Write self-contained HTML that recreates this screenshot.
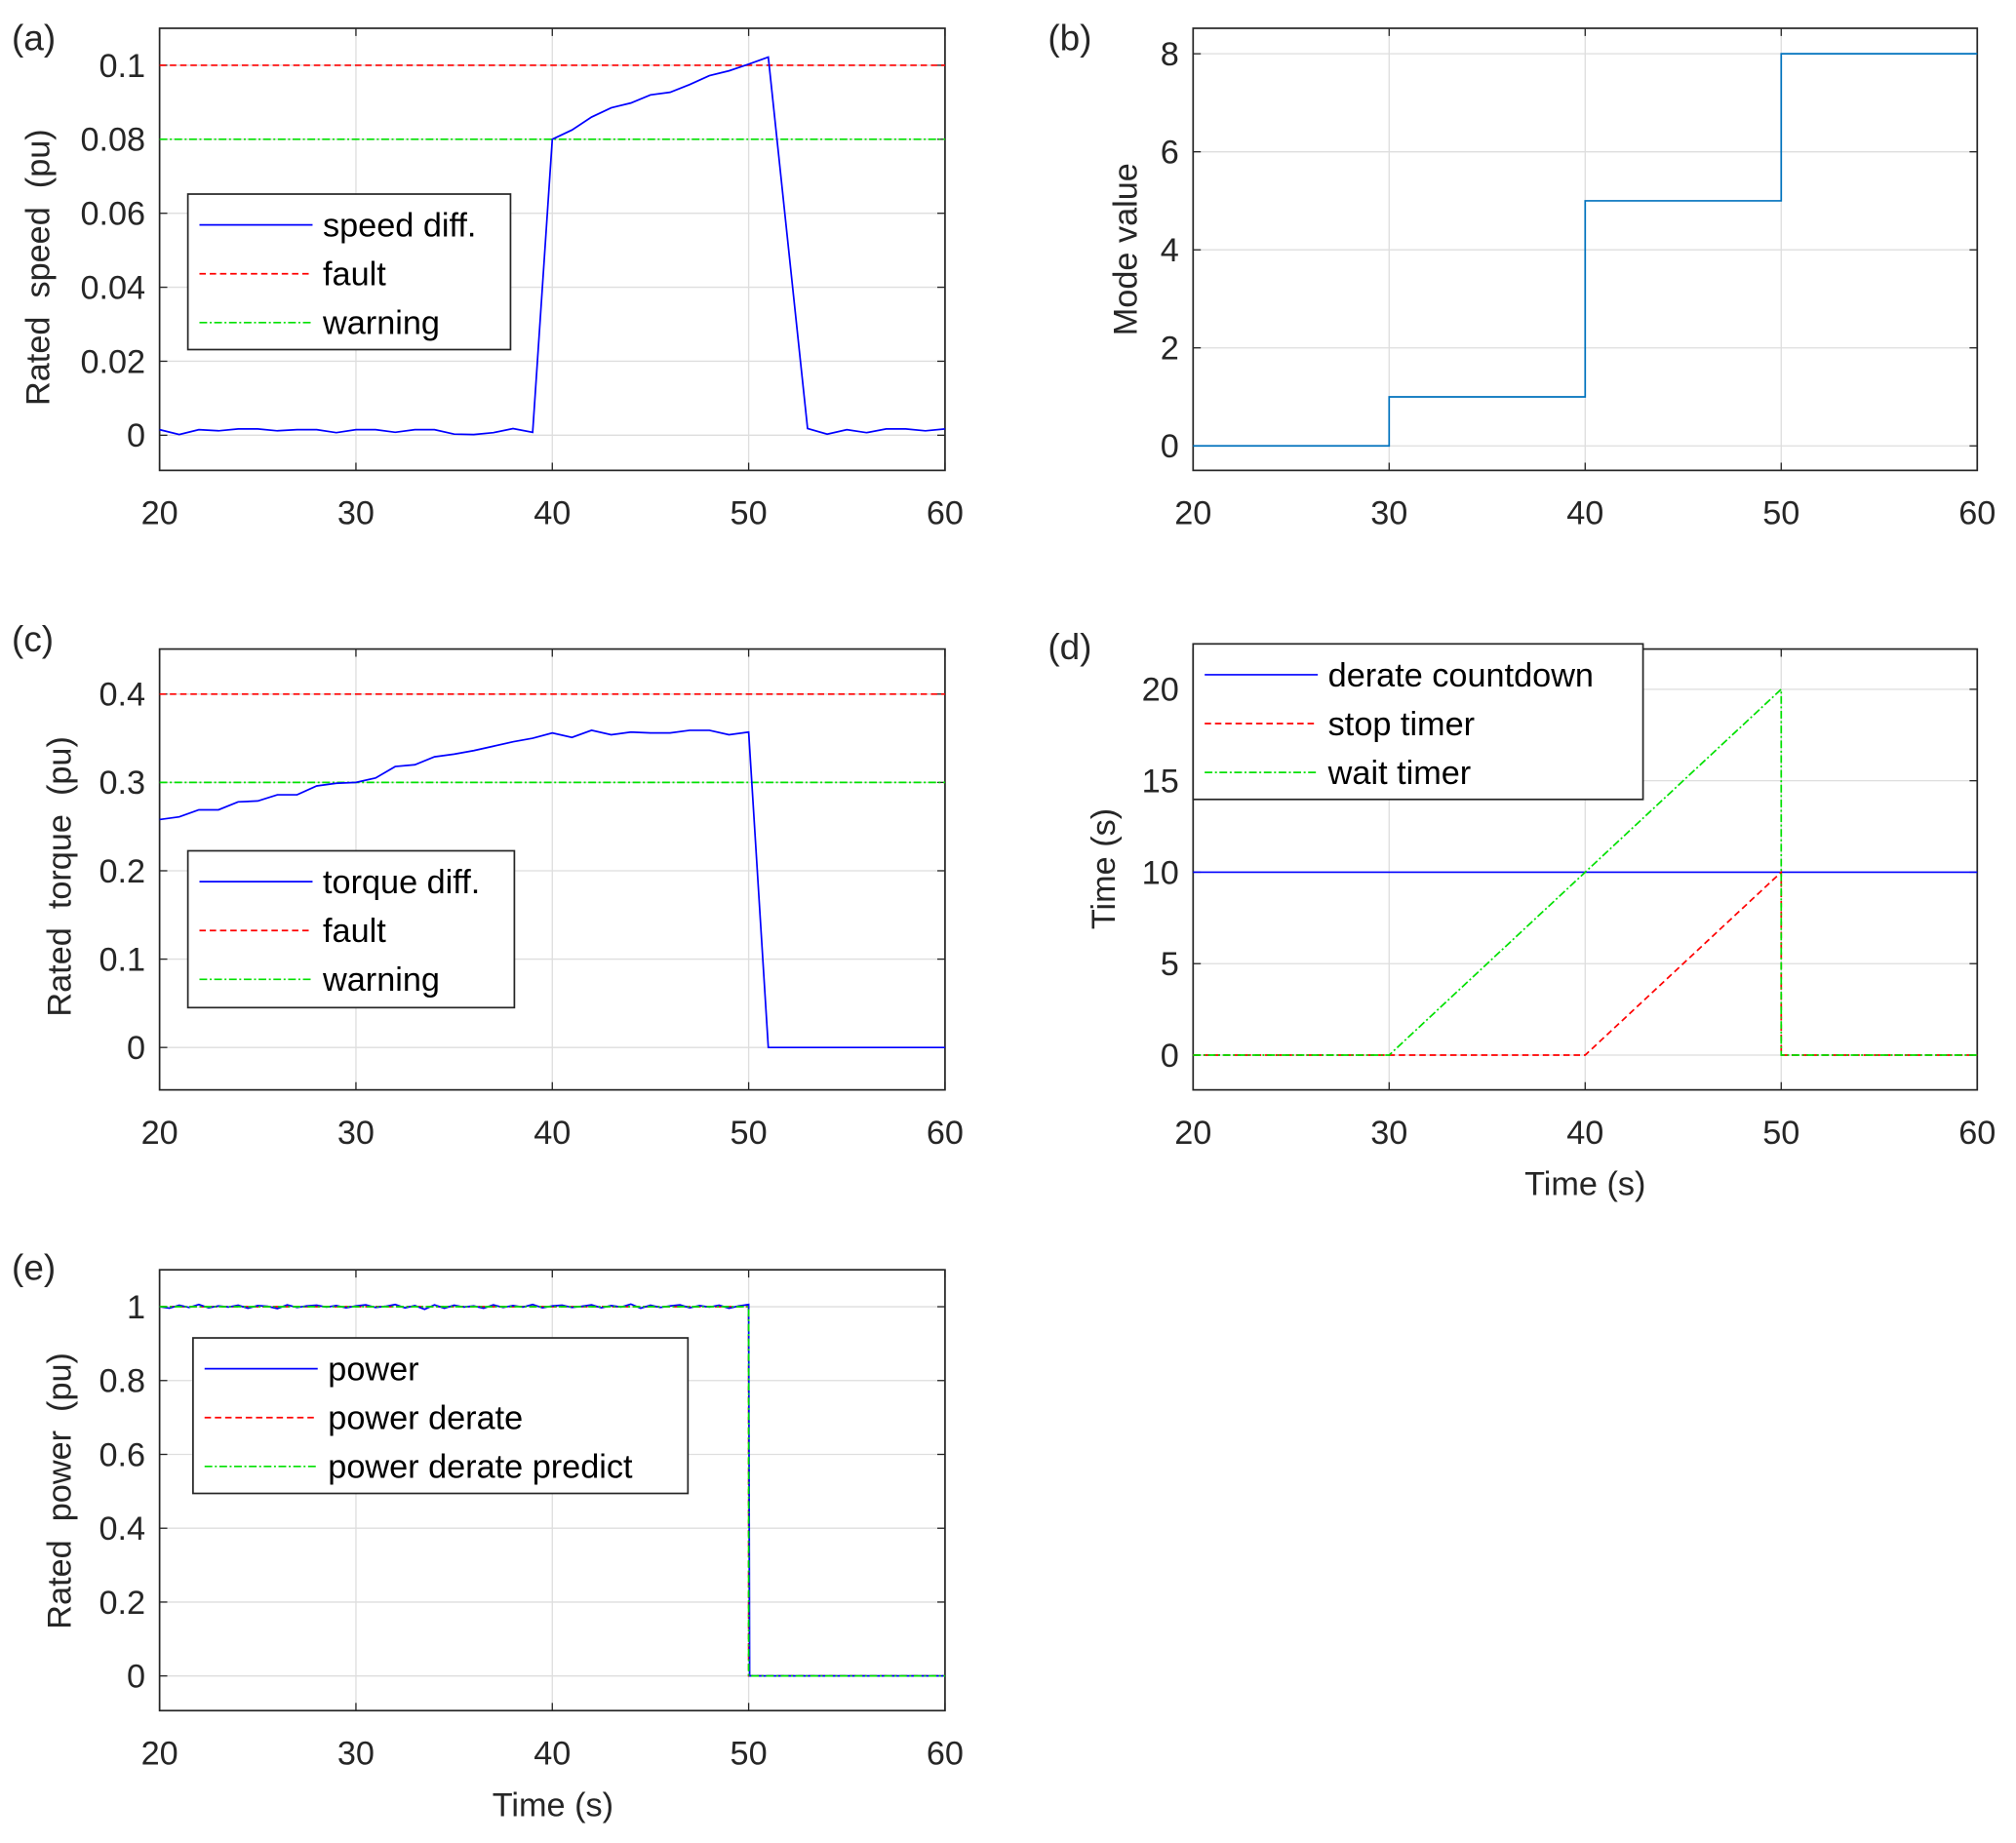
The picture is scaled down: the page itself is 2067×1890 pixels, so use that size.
<!DOCTYPE html>
<html><head><meta charset="utf-8"><style>
html,body{margin:0;padding:0;background:#fff;}
svg{display:block;font-family:"Liberation Sans",Arial,sans-serif;}
text{white-space:pre;}
</style></head><body>
<svg id="fig" width="2067" height="1890" viewBox="0 0 1568 1434" xmlns="http://www.w3.org/2000/svg"></svg>
<script>
// ---------- data ----------
const xTicks = [20,30,40,50,60];
const aTime = [20,21,22,23,24,25,26,27,28,29,30,31,32,33,34,35,36,37,38,39,40,41,42,43,44,45,46,47,48,49,50,51,53,54,55,56,57,58,59,60];
const aSpeed = [0.0015,0.0002,0.0015,0.0012,0.0017,0.0017,0.0012,0.0015,0.0015,0.0007,0.0015,0.0015,0.0008,0.0015,0.0015,0.0003,0.0002,0.0007,0.0018,0.0008,0.080,0.0825,0.086,0.0885,0.0898,0.092,0.0927,0.0948,0.0972,0.0985,0.1003,0.1022,0.0018,0.0003,0.0015,0.0007,0.0017,0.0017,0.0012,0.0017];
const aFault = 0.1, aWarn = 0.08;
const aYTicks = [0,0.02,0.04,0.06,0.08,0.1];
const aYLabels = ["0","0.02","0.04","0.06","0.08","0.1"];

const bTime = [20,30,30,40,40,50,50,60];
const bMode = [0,0,1,1,5,5,8,8];
const bYTicks = [0,2,4,6,8];

const cTime = [20,21,22,23,24,25,26,27,28,29,30,31,32,33,34,35,36,37,38,39,40,41,42,43,44,45,46,47,48,49,50,51,60];
const cTorque = [0.258,0.261,0.269,0.269,0.278,0.279,0.286,0.286,0.296,0.299,0.300,0.305,0.318,0.320,0.329,0.332,0.336,0.341,0.346,0.350,0.356,0.351,0.359,0.354,0.357,0.356,0.356,0.359,0.359,0.354,0.357,0,0];
const cFault = 0.4, cWarn = 0.3;
const cYTicks = [0,0.1,0.2,0.3,0.4];

const dTime = [20,60];
const dDerate = [10,10];
const dStopTime = [20,40,50,50,60];
const dStop = [0,0,10,0,0];
const dWaitTime = [20,30,50,50,60];
const dWait = [0,0,20,0,0];
const dYTicks = [0,5,10,15,20];

const eTime = [20,20.5,21,21.5,22,22.5,23,23.5,24,24.5,25,25.5,26,26.5,27,27.5,28,28.5,29,29.5,30,30.5,31,31.5,32,32.5,33,33.5,34,34.5,35,35.5,36,36.5,37,37.5,38,38.5,39,39.5,40,40.5,41,41.5,42,42.5,43,43.5,44,44.5,45,45.5,46,46.5,47,47.5,48,48.5,49,49.5,50,50.05,60];
const ePower = [1.0,0.996,1.004,0.998,1.006,0.997,1.002,0.999,1.004,0.996,1.003,1.001,0.995,1.005,0.998,1.002,1.004,0.999,1.003,0.997,1.002,1.005,0.998,1.001,1.006,0.997,1.003,0.993,1.005,0.996,1.004,0.999,1.002,0.996,1.005,0.998,1.003,0.999,1.006,0.997,1.002,1.004,0.998,1.001,1.005,0.997,1.003,0.999,1.007,0.996,1.004,0.998,1.002,1.005,0.997,1.003,0.999,1.004,0.996,1.002,1.006,0,0];
const ePredTime = [20,50,50,60];
const ePred = [1,1,0,0];
const eYTicks = [0,0.2,0.4,0.6,0.8,1];

// ---------- helpers ----------
const NS="http://www.w3.org/2000/svg";
const svg=document.getElementById('fig');
function mk(tag,attrs,parent){const e=document.createElementNS(NS,tag);for(const k in attrs)e.setAttribute(k,attrs[k]);(parent||svg).appendChild(e);return e;}
const TF=26;
function axes(name,x0,x1,y0,y1,ymin,ymax,yTicks,yLabels){
  const g=mk('g',{});
  
  
  const sx=v=>x0+(v-20)/40*(x1-x0);
  const sy=v=>y1-(v-ymin)/(ymax-ymin)*(y1-y0);
  xTicks.forEach(t=>{
    const l=mk('line',{x1:sx(t),x2:sx(t),y1:y0,y2:y1,stroke:'#dedede','stroke-width':1},g);
    
    
    mk('line',{x1:sx(t),x2:sx(t),y1:y1,y2:y1-6,stroke:'#262626','stroke-width':1},g);
    mk('line',{x1:sx(t),x2:sx(t),y1:y0,y2:y0+6,stroke:'#262626','stroke-width':1},g);
    const tx=mk('text',{x:sx(t),y:y1+42,'font-size':TF,'text-anchor':'middle',fill:'#262626'},g);
    tx.textContent=t;
    
    
  });
  yTicks.forEach((t,i)=>{
    const l=mk('line',{x1:x0,x2:x1,y1:sy(t),y2:sy(t),stroke:'#dedede','stroke-width':1},g);
    
    
    mk('line',{x1:x0,x2:x0+6,y1:sy(t),y2:sy(t),stroke:'#262626','stroke-width':1},g);
    mk('line',{x1:x1,x2:x1-6,y1:sy(t),y2:sy(t),stroke:'#262626','stroke-width':1},g);
    const tx=mk('text',{x:x0-11,y:sy(t)+9,'font-size':TF,'text-anchor':'end',fill:'#262626'},g);
    tx.textContent=yLabels?yLabels[i]:t;
    
    
  });
  const box=mk('rect',{x:x0,y:y0,width:x1-x0,height:y1-y0,fill:'none',stroke:'#262626','stroke-width':1.3},g);
  
  
  return {g,sx,sy};
}
function line(ax,xs,ys,color,dash,name){
  const pts=xs.map((x,i)=>ax.sx(x).toFixed(2)+','+ax.sy(ys[i]).toFixed(2)).join(' ');
  const p=mk('polyline',{points:pts,fill:'none',stroke:color,'stroke-width':1.3});
  if(dash)p.setAttribute('stroke-dasharray',dash);
  
  
  return p;
}
function text(x,y,s,size,name,anchor,rot){
  const t=mk('text',{x:x,y:y,'font-size':size,fill:'#262626','text-anchor':anchor||'start'});
  if(rot)t.setAttribute('transform','rotate(-90 '+x+' '+y+')');
  t.textContent=s;
  
  
  return t;
}
function legend(name,x,y,w,h,items){
  const g=mk('g',{});
  
  
  mk('rect',{x:x,y:y,width:w,height:h,fill:'#fff',stroke:'#262626','stroke-width':1.3},g);
  items.forEach((it,i)=>{
    const cy=y+24+i*38;
    const l=mk('line',{x1:x+9,x2:x+97,y1:cy,y2:cy,stroke:it[1],'stroke-width':1.3},g);
    if(it[2])l.setAttribute('stroke-dasharray',it[2]);
    const t=mk('text',{x:x+105,y:cy+9,'font-size':TF,fill:'#000'},g);
    t.textContent=it[0];
    
    
  });
}
const DASH='5,3', DOT='6,2,1.5,2';
const BLUE='#0000ff', RED='#ff0000', GREEN='#00e000';

// (a)
const A=axes('panel-a-axes',124,735,22,366,-0.0095,0.11,aYTicks,aYLabels);
line(A,[20,60],[aFault,aFault],RED,DASH,'fault-line');
line(A,[20,60],[aWarn,aWarn],GREEN,DOT,'warning-line');
line(A,aTime,aSpeed,BLUE,null,'speed-diff-line');
legend('legend-a',146,151,251,121,[['speed diff.',BLUE,null],['fault',RED,DASH],['warning',GREEN,DOT]]);
text(9,39,'(a)',28,'panel-label-a');
text(38,208,'Rated  speed  (pu)',26,'y-axis-title-a','middle',true);

// (b)
const B=axes('panel-b-axes',928,1538,22,366,-0.5,8.52,bYTicks);
line(B,bTime,bMode,'#0072bd',null,'mode-line');
text(815,39,'(b)',28,'panel-label-b');
text(884,194,'Mode value',26,'y-axis-title-b','middle',true);

// (c)
const C=axes('panel-c-axes',124,735,505,848,-0.048,0.451,cYTicks);
line(C,[20,60],[cFault,cFault],RED,DASH,'fault-line');
line(C,[20,60],[cWarn,cWarn],GREEN,DOT,'warning-line');
line(C,cTime,cTorque,BLUE,null,'torque-diff-line');
legend('legend-c',146,662,254,122,[['torque diff.',BLUE,null],['fault',RED,DASH],['warning',GREEN,DOT]]);
text(9,507,'(c)',28,'panel-label-c');
text(55,682,'Rated  torque  (pu)',26,'y-axis-title-c','middle',true);

// (d)
const D=axes('panel-d-axes',928,1538,505,848,-1.9,22.2,dYTicks);
line(D,dTime,dDerate,BLUE,null,'derate-countdown-line');
line(D,dStopTime,dStop,RED,DASH,'stop-timer-line');
line(D,dWaitTime,dWait,GREEN,DOT,'wait-timer-line');
legend('legend-d',928,501,350,121,[['derate countdown',BLUE,null],['stop timer',RED,DASH],['wait timer',GREEN,DOT]]);
text(815,513,'(d)',28,'panel-label-d');
text(867,676,'Time (s)',26,'y-axis-title-d','middle',true);
text(1233,930,'Time (s)',26,'x-axis-title-d','middle');

// (e)
const E=axes('panel-e-axes',124,735,988,1331,-0.094,1.1,eYTicks);
line(E,ePredTime,ePred,RED,DASH,'power-derate-line');
line(E,eTime,ePower,BLUE,null,'power-line');
line(E,ePredTime,ePred,GREEN,DOT,'power-derate-predict-line');
legend('legend-e',150,1041,385,121,[['power',BLUE,null],['power derate',RED,DASH],['power derate predict',GREEN,DOT]]);
text(9,996,'(e)',28,'panel-label-e');
text(55,1160,'Rated  power  (pu)',26,'y-axis-title-e','middle',true);
text(430,1413,'Time (s)',26,'x-axis-title-e','middle');
</script>
</body></html>
